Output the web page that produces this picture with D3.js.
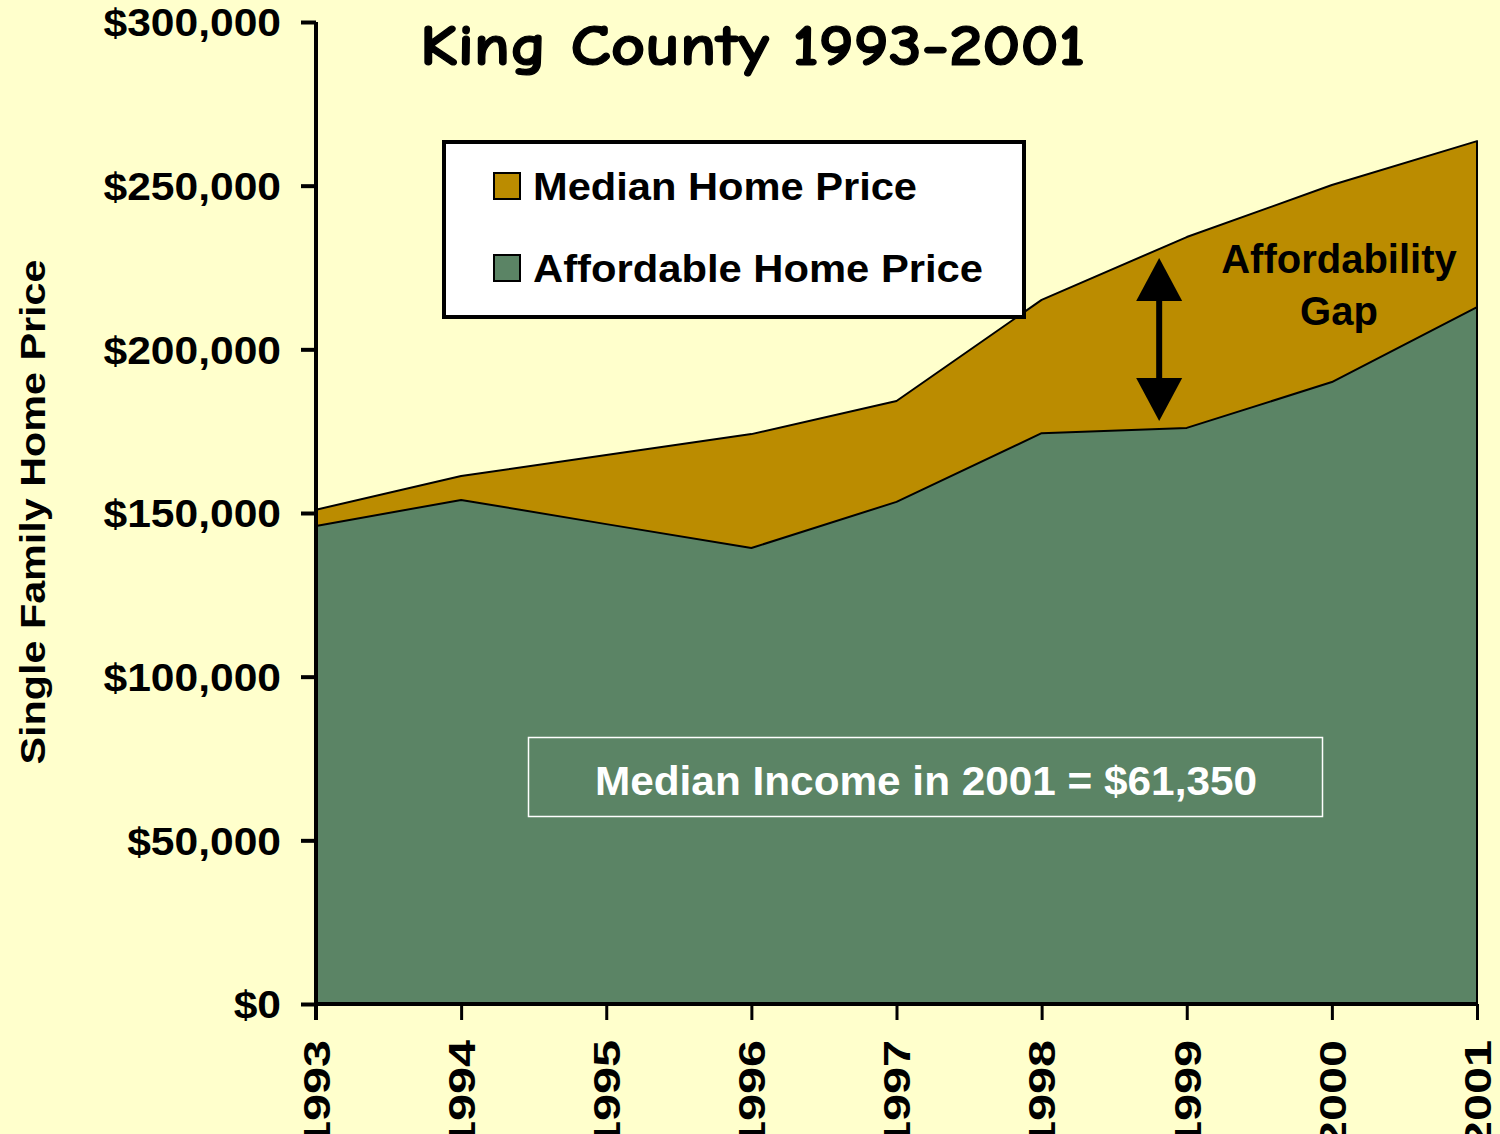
<!DOCTYPE html>
<html><head><meta charset="utf-8">
<script src="https://cdn.jsdelivr.net/npm/d3@7"></script>
<style>body{margin:0;background:#FFFFCC;}svg{display:block;}</style>
</head><body>
<svg id="c" width="1500" height="1134"></svg>
<script>
const years = [1993,1994,1995,1996,1997,1998,1999,2000,2001];
const medianPrice = [151000,161300,167700,174100,184200,215100,234300,250200,263600];
const affordablePrice = [146000,154000,146600,139300,153400,174400,176000,190000,212900];
const yTicks = [0,50000,100000,150000,200000,250000,300000];
const seriesNames = ["Median Home Price","Affordable Home Price"];
const titleText = "King County 1993-2001";
const yTitle = "Single Family Home Price";
const incomeNote = "Median Income in 2001 = $61,350";
const gapLabel = ["Affordability","Gap"];
const arrowSpan = {year:1998.81, top:227900, bottom:178100};

const GOLD="#BB8C00", GREEN="#5B8465", BG="#FFFFCC";
const svg = d3.select("#c");
svg.append("rect").attr("width",1500).attr("height",1134).attr("fill",BG);

const x = d3.scaleLinear().domain([1993,2001]).range([316,1477]);
const y = d3.scaleLinear().domain([0,300000]).range([1004,22]);
const F = "'Liberation Sans', Arial, Helvetica, sans-serif";

function stretch(sel, len){ sel.attr("textLength",len).attr("lengthAdjust","spacingAndGlyphs"); }

// areas
const area = vals => d3.area().x((d,i)=>x(years[i])).y0(y(0)).y1(d=>y(d))(vals);
svg.append("path").attr("d",area(medianPrice)).attr("fill",GOLD).attr("stroke","#000").attr("stroke-width",2).attr("stroke-linejoin","round");
svg.append("path").attr("d",area(affordablePrice)).attr("fill",GREEN).attr("stroke","#000").attr("stroke-width",2).attr("stroke-linejoin","round");

// y axis
const yAxis = svg.append("g").attr("transform","translate(316,0)")
  .call(d3.axisLeft(y).tickValues(yTicks).tickSize(15).tickPadding(20).tickFormat(d=>"$"+d3.format(",")(d)));
yAxis.select(".domain").attr("stroke","#000").attr("stroke-width",4).attr("d","M0,22V1020");
yAxis.selectAll(".tick line").attr("stroke","#000").attr("stroke-width",4);
yAxis.selectAll(".tick text").attr("font-family",F).attr("font-weight","bold").attr("font-size",38).attr("fill","#000").attr("dy","0.36em")
  .each(function(){ const l=this.getComputedTextLength(); stretch(d3.select(this), l*1.12); });

// x axis
const xAxis = svg.append("g").attr("transform","translate(0,1004)")
  .call(d3.axisBottom(x).tickValues(years).tickSize(16).tickFormat(d3.format("d")));
xAxis.select(".domain").attr("stroke","#000").attr("stroke-width",4).attr("d","M316,0H1477");
xAxis.selectAll(".tick line").attr("stroke","#000").attr("stroke-width",3);
xAxis.selectAll(".tick text").attr("font-family",F).attr("font-weight","bold").attr("font-size",37).attr("fill","#000")
  .attr("transform","rotate(-90)").attr("text-anchor","end").attr("x",-36).attr("y",0).attr("dy","0.36em")
  .each(function(){ stretch(d3.select(this),108); });

// y title
svg.append("text").attr("transform","translate(32,512) rotate(-90)").attr("text-anchor","middle").attr("dy","0.36em")
  .attr("font-family",F).attr("font-weight","bold").attr("font-size",35).text(yTitle).call(stretch,505);

// title
svg.append("text").attr("x",420).attr("y",65).attr("font-family","'Comic Sans MS','Comic Neue','DejaVu Sans',sans-serif")
  .attr("font-weight","bold").attr("font-size",58).attr("stroke","#000").attr("stroke-width",1.2).text(titleText).call(stretch,665);

// legend
svg.append("rect").attr("x",444).attr("y",142).attr("width",580).attr("height",175).attr("fill","#fff").attr("stroke","#000").attr("stroke-width",4);
const legColors=[GOLD,GREEN], legY=[186,268], legLen=[384,450];
seriesNames.forEach((n,i)=>{
  svg.append("rect").attr("x",494).attr("y",legY[i]-13).attr("width",26).attr("height",26).attr("fill",legColors[i]).attr("stroke","#000").attr("stroke-width",2);
  svg.append("text").attr("x",533).attr("y",legY[i]).attr("dy","0.36em").attr("font-family",F).attr("font-weight","bold").attr("font-size",38).text(n).call(stretch,legLen[i]);
});

// income note
svg.append("rect").attr("x",528.5).attr("y",737.5).attr("width",794).attr("height",79).attr("fill","none").attr("stroke","#fff").attr("stroke-width",1.5);
svg.append("text").attr("x",926).attr("y",780).attr("dy","0.36em").attr("text-anchor","middle").attr("fill","#fff")
  .attr("font-family",F).attr("font-weight","bold").attr("font-size",41).text(incomeNote).call(stretch,662);

// gap label
gapLabel.forEach((t,i)=>{
  svg.append("text").attr("x",1339).attr("y",273+i*52).attr("text-anchor","middle").attr("font-family",F).attr("font-weight","bold").attr("font-size",40).text(t);
});

// arrow
const ax=x(arrowSpan.year), yt=y(arrowSpan.top), yb=y(arrowSpan.bottom);
svg.append("line").attr("x1",ax).attr("x2",ax).attr("y1",yt+30).attr("y2",yb-30).attr("stroke","#000").attr("stroke-width",6);
svg.append("path").attr("d",`M${ax},${yt}L${ax+23},${yt+43}L${ax-23},${yt+43}Z`).attr("fill","#000");
svg.append("path").attr("d",`M${ax},${yb}L${ax+23},${yb-43}L${ax-23},${yb-43}Z`).attr("fill","#000");
</script>
</body></html>
